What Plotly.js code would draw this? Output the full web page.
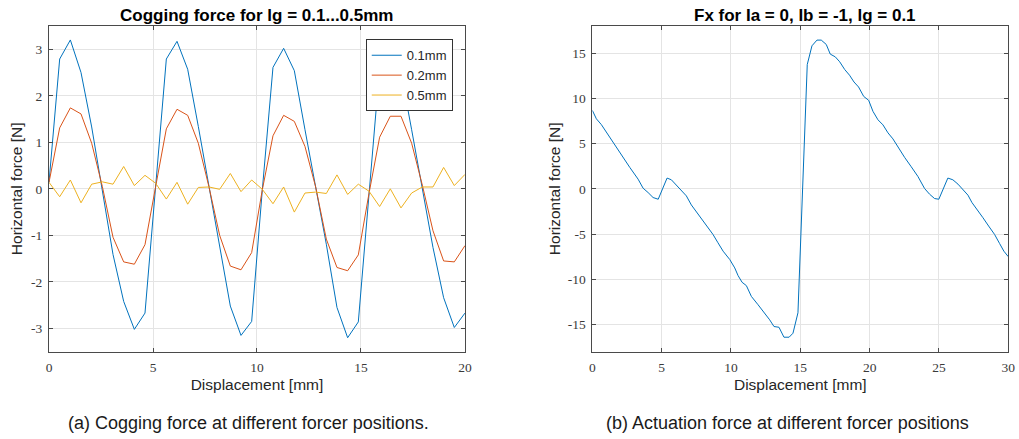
<!DOCTYPE html>
<html>
<head>
<meta charset="utf-8">
<script src="https://cdn.plot.ly/plotly-3.0.1.min.js"></script>
<style>
html,body{margin:0;padding:0;background:#fff;}
#chart{width:1019px;height:439px;}
</style>
</head>
<body>
<div id="chart"></div>
<script>
// ---- Data: cogging force (left) ----
const dispA = [0, 0.513, 1.026, 1.538, 2.051, 2.564, 3.077, 3.590, 4.103, 4.615,
  5.128, 5.641, 6.154, 6.667, 7.179, 7.692, 8.205, 8.718, 9.231, 9.744,
  10.256, 10.769, 11.282, 11.795, 12.308, 12.821, 13.333, 13.846, 14.359, 14.872,
  15.385, 15.897, 16.410, 16.923, 17.436, 17.949, 18.462, 18.974, 19.487, 20];
const force01 = [0.14, 2.79, 3.20, 2.50, 1.33, 0.00, -1.41, -2.42, -3.02, -2.67,
  0.10, 2.79, 3.17, 2.57, 1.34, 0.04, -1.30, -2.52, -3.15, -2.85,
  -0.02, 2.61, 3.02, 2.54, 1.27, 0.04, -1.19, -2.55, -3.20, -2.86,
  -0.03, 2.60, 3.05, 2.50, 1.27, 0.04, -1.26, -2.34, -2.98, -2.67];
const force02 = [0.14, 1.31, 1.74, 1.61, 0.98, 0.05, -1.04, -1.57, -1.62, -1.20,
  0.05, 1.29, 1.71, 1.58, 0.98, 0.04, -1.00, -1.66, -1.74, -1.37,
  -0.02, 1.14, 1.58, 1.45, 0.91, 0.04, -1.08, -1.69, -1.76, -1.42,
  -0.10, 1.11, 1.56, 1.56, 0.98, 0.08, -0.90, -1.55, -1.57, -1.22];
const force05 = [0.14, -0.17, 0.19, -0.30, 0.10, 0.15, 0.10, 0.48, 0.07, 0.29,
  0.12, -0.22, 0.14, -0.33, 0.03, 0.04, -0.01, 0.33, -0.06, 0.19,
  -0.01, -0.32, 0.04, -0.50, -0.09, -0.07, -0.10, 0.30, -0.12, 0.10,
  -0.05, -0.38, 0.00, -0.41, -0.09, 0.04, 0.04, 0.46, 0.07, 0.31];
const seriesNames = ['0.1mm', '0.2mm', '0.5mm'];

// ---- Data: actuation force (right) ----
const dispB = [0, 0.29, 0.65, 1.01, 1.37, 1.73, 2.21, 2.70, 3.30, 3.66,
  4.02, 4.38, 4.75, 5.39, 5.70, 6.06, 6.42, 6.78, 7.14, 7.62,
  8.10, 8.70, 9.06, 9.43, 9.91, 10.27, 10.51, 10.80, 11.11, 11.47,
  11.95, 12.43, 12.79, 13.10, 13.46, 13.82, 14.19, 14.47, 14.83, 15.50,
  15.84, 16.20, 16.51, 16.87, 17.16, 17.52, 17.84, 18.20, 18.55, 18.87,
  19.20, 19.57, 19.93, 20.24, 20.60, 20.96, 21.32, 21.68, 22.04, 22.52,
  23.00, 23.48, 23.96, 24.32, 24.68, 24.99, 25.64, 26.00, 26.37, 26.73,
  27.09, 27.38, 27.81, 28.17, 28.58, 29.01, 29.37, 29.68, 30.00];
const forceFx = [8.67, 7.74, 7.10, 6.26, 5.52, 4.60, 3.48, 2.37, 1.07, 0.07,
  -0.41, -0.96, -1.15, 1.19, 1.00, 0.44, -0.11, -0.78, -1.78, -2.81,
  -3.85, -5.04, -5.96, -6.89, -7.81, -8.74, -9.59, -10.33, -10.70, -11.89,
  -12.81, -13.74, -14.48, -15.22, -15.30, -16.40, -16.40, -15.96, -13.70, 13.74,
  15.81, 16.44, 16.44, 15.96, 14.89, 14.59, 14.04, 13.19, 12.56, 11.81,
  11.26, 10.22, 9.78, 8.56, 7.63, 7.07, 6.19, 5.52, 4.59, 3.48,
  2.44, 1.37, 0.04, -0.59, -1.07, -1.15, 1.19, 1.00, 0.52, -0.04,
  -0.70, -1.52, -2.37, -3.19, -4.11, -5.04, -6.04, -6.89, -7.50];

// ---- Ticks ----
const xTicksA = [0, 5, 10, 15, 20];
const xTicksB = [0, 5, 10, 15, 20, 25, 30];
const yTicksA = [-3, -2, -1, 0, 1, 2, 3];
const yTickTextA = ['-3', '-2', '-1', '0', '1', '2', '3'];
const yTicksB = [-15, -10, -5, 0, 5, 10, 15];
const yTickTextB = ['-15', '-10', '-5', '0', '5', '10', '15'];

// ---- Text ----
const titleA = 'Cogging force for lg = 0.1...0.5mm';
const titleB = 'Fx for Ia = 0, Ib = -1, lg = 0.1';
const xLabel = 'Displacement [mm]';
const yLabel = 'Horizontal force [N]';
const captionA = '(a) Cogging force at different forcer positions.';
const captionB = '(b) Actuation force at different forcer positions';

const colors = ['#0072BD', '#D95319', '#EDB120'];
const sans = 'Liberation Sans, Arial, Helvetica, sans-serif';
const serif = 'Liberation Serif, Times New Roman, serif';

const traces = [
  {x: dispA, y: force01, name: seriesNames[0], type: 'scatter', mode: 'lines',
   line: {color: colors[0], width: 1}, xaxis: 'x', yaxis: 'y'},
  {x: dispA, y: force02, name: seriesNames[1], type: 'scatter', mode: 'lines',
   line: {color: colors[1], width: 1}, xaxis: 'x', yaxis: 'y'},
  {x: dispA, y: force05, name: seriesNames[2], type: 'scatter', mode: 'lines',
   line: {color: colors[2], width: 1}, xaxis: 'x', yaxis: 'y'},
  {x: dispB, y: forceFx, name: 'Fx', type: 'scatter', mode: 'lines', showlegend: false,
   line: {color: colors[0], width: 1}, xaxis: 'x2', yaxis: 'y2'}
];

const axisCommon = {
  showgrid: true, gridcolor: '#e4e4e4', gridwidth: 1,
  zeroline: false, showline: true, linecolor: '#4a4a4a', linewidth: 1,
  mirror: 'ticks', ticks: 'inside', ticklen: 4, tickwidth: 1, tickcolor: '#4a4a4a',
  tickfont: {family: serif, size: 13.5, color: '#3a3a3a'},
  automargin: false, fixedrange: true
};

const layout = {
  width: 1019, height: 439,
  margin: {l: 0, r: 0, t: 0, b: 0},
  paper_bgcolor: '#ffffff', plot_bgcolor: '#ffffff',
  font: {family: sans, color: '#262626'},
  showlegend: true,
  legend: {
    x: 0.4443, xanchor: 'right', y: 0.9105, yanchor: 'top',
    bgcolor: '#ffffff', bordercolor: '#333333', borderwidth: 1,
    font: {family: sans, size: 13, color: '#262626'},
    tracegroupgap: 0, itemwidth: 30
  },
  xaxis: Object.assign({}, axisCommon, {
    domain: [0.0481, 0.4563], range: [0, 20], tickmode: 'array', tickvals: xTicksA,
    anchor: 'y', ticklabelstandoff: 3,
    title: {text: xLabel, font: {family: sans, size: 15.5, color: '#262626'}, standoff: 5}
  }),
  yaxis: Object.assign({}, axisCommon, {
    domain: [0.1989, 0.9408], range: [-3.5, 3.5], tickmode: 'array',
    tickvals: yTicksA, ticktext: yTickTextA, anchor: 'x', ticklabelstandoff: 3,
    title: {text: yLabel, font: {family: sans, size: 15.5, color: '#262626'}, standoff: 4}
  }),
  xaxis2: Object.assign({}, axisCommon, {
    domain: [0.5813, 0.9895], range: [0, 30], tickmode: 'array', tickvals: xTicksB,
    anchor: 'y2', ticklabelstandoff: 3,
    title: {text: xLabel, font: {family: sans, size: 15.5, color: '#262626'}, standoff: 5}
  }),
  yaxis2: Object.assign({}, axisCommon, {
    domain: [0.1989, 0.9408], range: [-18, 18], tickmode: 'array',
    tickvals: yTicksB, ticktext: yTickTextB, anchor: 'x2', ticklabelstandoff: 3,
    title: {text: yLabel, font: {family: sans, size: 15.5, color: '#262626'}, standoff: 3}
  }),
  annotations: [
    {text: '<b>' + titleA + '</b>', xref: 'paper', yref: 'paper', x: 0.2519, y: 0.9658,
     xanchor: 'center', yanchor: 'middle', showarrow: false,
     font: {family: sans, size: 17, color: '#000000'}},
    {text: '<b>' + titleB + '</b>', xref: 'paper', yref: 'paper', x: 0.7900, y: 0.9658,
     xanchor: 'center', yanchor: 'middle', showarrow: false,
     font: {family: sans, size: 17, color: '#000000'}},
    {text: captionA, xref: 'paper', yref: 'paper', x: 0.2434, y: 0.0364,
     xanchor: 'center', yanchor: 'middle', showarrow: false,
     font: {family: sans, size: 18, color: '#1a1a1a'}},
    {text: captionB, xref: 'paper', yref: 'paper', x: 0.7733, y: 0.0364,
     xanchor: 'center', yanchor: 'middle', showarrow: false,
     font: {family: sans, size: 18, color: '#1a1a1a'}}
  ]
};

Plotly.newPlot('chart', traces, layout, {staticPlot: true, displayModeBar: false});
</script>
</body>
</html>
